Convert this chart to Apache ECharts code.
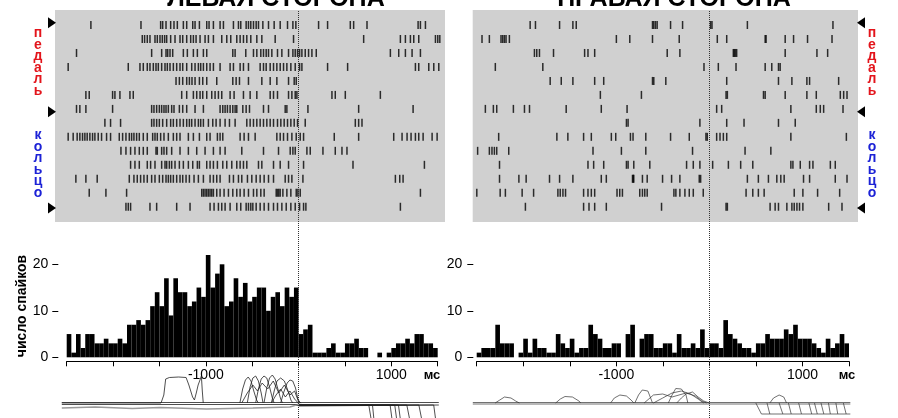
<!DOCTYPE html>
<html><head><meta charset="utf-8">
<script src="https://cdn.jsdelivr.net/npm/echarts@6/dist/echarts.min.js"></script>
<style>html,body{margin:0;padding:0;background:#fff}#c{width:898px;height:418px}</style>
</head><body><div id="c"></div>
<script>
// ---- Raster data: spike times (ms, relative to event at 0) per trial row ----
const leftRows = [
 [-2246,-1706,-1494,-1472,-1436,-1386,-1350,-1314,-1249,-1213,-1148,-1123,-1076,-997,-972,-925,-853,-817,-709,-655,-630,-572,-547,-522,-493,-464,-439,-392,-331,-270,-205,-126,-68,-36,209,306,551,587,731,1282,1307,1361],
 [-1692,-1667,-1638,-1609,-1555,-1530,-1501,-1476,-1451,-1429,-1386,-1339,-1285,-1256,-1213,-1170,-1141,-1112,-1069,-1015,-979,-925,-835,-781,-738,-673,-637,-601,-565,-522,-457,-403,-259,-61,695,1091,1145,1199,1235,1289,1469,1494,1516],
 [-2401,-1591,-1483,-1436,-1418,-1393,-1364,-1249,-1206,-1141,-1098,-1033,-997,-716,-691,-576,-493,-457,-414,-385,-356,-331,-295,-234,-187,-115,-68,-43,-18,4,29,65,101,137,184,983,1073,1145,1217,1307],
 [-2491,-1843,-1717,-1681,-1638,-1609,-1573,-1544,-1519,-1483,-1447,-1422,-1393,-1357,-1321,-1285,-1256,-1213,-1159,-1123,-1087,-1062,-1033,-997,-961,-925,-853,-745,-709,-637,-601,-547,-421,-385,-356,-313,-277,-241,-205,-169,-133,-90,-43,4,29,306,522,1253,1289,1397,1451,1505],
 [-1328,-1292,-1256,-1213,-1184,-1156,-1123,-1076,-1040,-997,-889,-716,-680,-644,-547,-403,-313,-241,-115,-54,-32],
 [-2300,-2264,-2012,-1987,-1933,-1825,-1789,-1267,-1213,-1141,-1105,-1069,-1040,-997,-943,-907,-871,-835,-745,-702,-601,-529,-457,-313,-277,-234,-115,-79,-43,-25,353,389,497,875],
 [-2401,-2365,-2300,-2012,-1591,-1566,-1537,-1508,-1483,-1458,-1436,-1411,-1375,-1350,-1292,-1256,-1213,-1123,-1033,-853,-824,-799,-774,-745,-716,-691,-673,-608,-572,-536,-385,-331,-151,-133,94,641,1228],
 [-2095,-2034,-1926,-1591,-1566,-1537,-1508,-1472,-1429,-1386,-1357,-1321,-1285,-1249,-1213,-1184,-1159,-1123,-1087,-1062,-1033,-979,-932,-896,-853,-799,-752,-691,-565,-529,-493,-457,-421,-385,-349,-313,-277,-234,-198,-162,-126,-90,-54,-18,65,605,641,677],
 [-2491,-2437,-2394,-2365,-2336,-2311,-2286,-2257,-2228,-2203,-2167,-2131,-2077,-2034,-1940,-1904,-1868,-1832,-1807,-1782,-1753,-1724,-1681,-1638,-1580,-1555,-1530,-1494,-1458,-1411,-1357,-1321,-1285,-1195,-1141,-1076,-997,-961,-882,-853,-824,-637,-594,-547,-475,-241,-205,-169,-126,-79,-32,11,47,378,641,1019,1109,1163,1206,1253,1289,1336,1433,1487],
 [-1922,-1868,-1818,-1771,-1724,-1681,-1638,-1544,-1530,-1483,-1458,-1429,-1375,-1285,-1195,-1105,-1015,-925,-853,-799,-619,-385,-223,-97,-68,-43,83,119,256,389,461,515],
 [-1818,-1771,-1724,-1638,-1602,-1555,-1483,-1447,-1429,-1400,-1375,-1339,-1292,-1249,-1195,-1148,-1098,-1076,-997,-961,-925,-882,-824,-781,-727,-673,-637,-601,-565,-439,-403,-277,-205,-115,47,580,1350],
 [-2408,-2300,-2178,-1832,-1782,-1746,-1710,-1674,-1638,-1591,-1555,-1508,-1472,-1436,-1411,-1386,-1357,-1321,-1285,-1256,-1220,-1184,-1134,-1087,-1033,-961,-925,-889,-853,-752,-709,-655,-619,-558,-511,-464,-421,-378,-331,-277,-151,-115,-79,40,1037,1084,1120],
 [-2264,-2084,-1861,-1051,-1033,-1015,-997,-979,-961,-943,-925,-889,-853,-810,-763,-716,-673,-637,-594,-547,-493,-457,-414,-378,-248,-234,-220,-205,-176,-133,-90,-32,-14,11,1307],
 [-1868,-1843,-1818,-1609,-1537,-1321,-1177,-961,-918,-871,-835,-799,-745,-673,-630,-572,-547,-522,-500,-464,-421,-378,-331,-277,-234,-187,-140,-90,-43,4,47,72,1091]
];
const rightRows = [
 [-1924,-1867,-1608,-1465,-1429,-610,-596,-578,-560,-416,-287,14,29,409,1328],
 [-2441,-2362,-2237,-2219,-2201,-2183,-2147,-998,-854,-610,-323,86,187,600,610,815,905,1055,1318],
 [-1878,-1853,-1824,-1673,-1339,-1303,-1231,-452,-316,258,269,280,294,815,1156,1271],
 [-2298,-1788,-57,97,287,600,671,743,761],
 [-1709,-1590,-1465,-1231,-1134,-610,-596,-467,187,743,887,1048,1077,1389],
 [-1170,-729,180,194,582,600,815,1048,1149,1407,1443,1479],
 [-2405,-2319,-2283,-2104,-1985,-1931,-1537,-1160,-883,79,133,876,1149,1192,1228,1436],
 [-890,-872,-101,187,373,743,923],
 [-2262,-1637,-1519,-1350,-1267,-1052,-1005,-847,-819,-682,-416,-215,-36,-22,79,115,151,187,876,1472],
 [-2488,-2362,-2334,-2308,-2283,-2154,-1249,-944,-682,-180,384,661],
 [-2253,-1303,-1242,-1134,-890,-872,-811,-639,-244,-172,-101,36,205,337,467,876,898,977,1077,1113,1300,1353],
 [-2253,-2045,-1967,-1716,-1608,-1465,-1160,-1106,-825,-818,-811,-718,-667,-502,-405,-316,-108,-93,409,527,635,725,768,804,1012,1077,1353,1479],
 [-2497,-2246,-2190,-2010,-1887,-1626,-1601,-1572,-1544,-1350,-1303,-1267,-1231,-991,-962,-933,-747,-718,-693,-667,-380,-359,-316,-262,-215,-172,-65,395,467,527,589,912,1005,1163,1400],
 [-1975,-1350,-1292,-1231,-1106,-513,180,194,653,707,743,833,887,912,941,969,1005,1282,1425]
];

// ---- Histogram counts, 50 ms bins from -2500 to +1500 ms ----
const leftHist = [5,1,5,2,5,5,3,3,4,3,3,4,3,7,7,8,7,8,11,14,11,17,9,17,14,14,11,12,15,13,22,15,18,20,11,12,17,13,16,12,13,15,15,10,13,14,11,15,13,15,5,6,7,1,1,1,2,3,1,1,3,3,4,2,2,0,0,1,0,1,2,3,3,4,3,5,5,3,3,2];
const rightHist = [1,2,2,2,7,3,3,3,0,1,4,1,4,2,2,1,1,5,3,2,4,1,2,2,7,5,4,2,2,3,3,0,5,7,0,4,5,5,2,2,3,3,1,5,2,2,3,2,6,2,3,3,2,8,5,4,3,2,2,1,3,3,5,4,4,4,6,5,7,4,4,4,3,2,1,4,2,3,5,3];
const binStarts = leftHist.map((_, k) => -2500 + 50 * k);

const xTickLabels = [-1000, 1000];
const yTickLabels = [0, 10, 20];
const titles = ['ЛЕВАЯ СТОРОНА', 'ПРАВАЯ СТОРОНА'];
const yName = 'число спайков';
const unitLabel = 'мс';
const groupLabels = ['педаль', 'кольцо'];

// ---- Movement traces (ms, amplitude) ----
const leftTraces = [
 [[-2560,0.5],[1505,0.5]],
 [[-2560,-1.5],[-40,-1.5],[0,-3],[1505,-2]],
 [[-2560,0],[-1490,0],[-1460,8],[-1440,24],[-1400,25.5],[-1300,26],[-1220,25.5],[-1190,18],[-1150,6],[-1130,3],[-1110,10],[-1090,18],[-1070,23],[-1055,27],[-1045,12],[-1035,0]],
 [[-640,0],[-610,14],[-580,23],[-550,26],[-520,22],[-490,12],[-460,3],[-440,0]],
 [[-560,0],[-530,16],[-500,25],[-470,27],[-440,22],[-410,10],[-390,0]],
 [[-470,0],[-440,14],[-410,24],[-380,27],[-350,25],[-320,16],[-290,5],[-270,0]],
 [[-380,0],[-350,15],[-320,25],[-290,28],[-260,24],[-230,14],[-200,4],[-180,0]],
 [[-300,0],[-270,12],[-240,22],[-200,25],[-160,22],[-120,12],[-90,3],[-70,0]],
 [[-200,0],[-170,10],[-130,20],[-100,23],[-70,22],[-40,15],[-15,4],[10,0]],
 [[-620,0],[-560,10],[-500,18],[-450,12],[-400,20],[-340,14],[-280,22],[-220,10],[-160,18],[-100,8],[-50,12],[-10,2],[20,0]],
 [[-300,0],[-250,8],[-200,14],[-150,6],[-100,12],[-50,4],[0,-1]],
 [[0,-2],[750,-2],[775,-16]],
 [[0,-2],[790,-2],[805,-16]],
 [[0,-2],[980,-2],[1000,-16]],
 [[0,-2],[1030,-2],[1050,-16]],
 [[0,-2],[1070,-2],[1090,-16]],
 [[0,-2],[1160,-2],[1190,-16]],
 [[0,-2],[1290,-2],[1320,-16]],
 [[0,-2],[1450,-2],[1470,-16]]
];
const leftTraceGray = [[-2560,-5],[-2200,-4],[-1800,-5.5],[-1500,-4.5],[-1000,-6],[-500,-5],[-100,-4],[0,-1]];
const rightTraces = [
 [[-2540,0.5],[1515,0.5]],
 [[-2540,-1],[1515,-1]],
 [[-2300,0],[-2250,3],[-2200,6],[-2130,5],[-2080,2],[-2040,0]],
 [[-1650,0],[-1600,4],[-1550,6.5],[-1470,6],[-1400,2],[-1380,0]],
 [[-1060,0],[-1020,5],[-960,8],[-890,7],[-840,3],[-810,0]],
 [[-800,0],[-760,8],[-720,13],[-660,12],[-630,5],[-610,0]],
 [[-440,0],[-400,8],[-360,14.5],[-300,14],[-250,8],[-230,0]],
 [[-600,0],[-500,5],[-400,10],[-300,12],[-200,9],[-120,4],[-60,0]],
 [[-700,0],[-600,8],[-500,9],[-400,6],[-250,10],[-150,7],[-80,2],[-30,0]],
 [[-350,0],[-300,5],[-250,9],[-180,11],[-120,6],[-60,2],[0,0]],
 [[650,0],[690,5],[750,8],[800,6],[830,0]],
 [[500,0],[515,0],[560,-11],[1515,-11]],
 [[620,0],[650,-11]],
 [[750,0],[790,-11]],
 [[850,0],[880,-11]],
 [[960,0],[990,-11]],
 [[1070,0],[1100,-11]],
 [[1130,0],[1160,-11]],
 [[1200,0],[1230,-11]],
 [[1280,0],[1300,-11]],
 [[1360,0],[1380,-11]],
 [[1440,0],[1470,-11]]
];

const FONT = "'Liberation Sans', Arial, sans-serif";

function rasterData(rows) {
  const out = [];
  rows.forEach((r, i) => r.forEach(t => out.push([t, i])));
  return out;
}

const chart = echarts.init(document.getElementById('c'), null, {renderer: 'canvas'});

const hidden = {show: false};
function hiddenVal(grid, min, max) {
  return {type: 'value', gridIndex: grid, min, max, show: false, splitLine: hidden,
    axisLine: {show: false, onZero: false}};
}
function histX(grid) {
  return {type: 'value', gridIndex: grid, position: 'bottom', min: -2500, max: 1500, interval: 500, offset: 4,
    axisLine: {show: true, onZero: false, lineStyle: {color: '#000', width: 1}},
    axisTick: {show: true, length: 5, lineStyle: {color: '#000'}},
    axisLabel: {margin: 7, color: '#000', fontFamily: FONT, fontSize: 14,
      formatter: v => xTickLabels.includes(v) ? String(v) : ''},
    splitLine: hidden};
}
function histY(grid, off, margin) {
  return {type: 'value', gridIndex: grid, position: 'left', min: 0, max: 22, offset: off,
    axisLine: {show: false, onZero: false},
    axisTick: {show: true, length: 6, customValues: yTickLabels, lineStyle: {color: '#000'}},
    axisLabel: {margin, color: '#000', fontFamily: FONT, fontSize: 14, customValues: yTickLabels},
    splitLine: hidden};
}

const series = [];
series.push({type: 'scatter', xAxisIndex: 0, yAxisIndex: 0, data: rasterData(leftRows),
  symbol: 'rect', symbolSize: [1.5, 8], itemStyle: {color: '#000'}, silent: true, z: 3});
series.push({type: 'scatter', xAxisIndex: 1, yAxisIndex: 1, data: rasterData(rightRows),
  symbol: 'rect', symbolSize: [1.5, 8], itemStyle: {color: '#000'}, silent: true, z: 3});
series.push({type: 'bar', xAxisIndex: 2, yAxisIndex: 2, data: leftHist, barCategoryGap: '0%',
  itemStyle: {color: '#000'}, silent: true});
series.push({type: 'bar', xAxisIndex: 4, yAxisIndex: 3, data: rightHist, barCategoryGap: '0%',
  itemStyle: {color: '#000'}, silent: true});
series.push({type: 'line', xAxisIndex: 6, yAxisIndex: 4, data: leftTraceGray, showSymbol: false,
  lineStyle: {color: '#9a9a9a', width: 1.5}, silent: true});
leftTraces.forEach(tr => series.push({type: 'line', xAxisIndex: 6, yAxisIndex: 4, data: tr,
  showSymbol: false, lineStyle: {color: '#222', width: 0.8}, silent: true}));
rightTraces.forEach(tr => series.push({type: 'line', xAxisIndex: 7, yAxisIndex: 5, data: tr,
  showSymbol: false, lineStyle: {color: '#333', width: 0.7}, silent: true}));
[8, 9].forEach((xi, k) => series.push({type: 'line', xAxisIndex: xi, yAxisIndex: 6 + k,
  data: [[0, 0]], showSymbol: false, lineStyle: {width: 0}, silent: true, z: 10,
  markLine: {silent: true, symbol: 'none', label: {show: false}, animation: false,
    lineStyle: {type: 'dotted', color: '#333', width: 1}, data: [{xAxis: 0}]}}));

function tri(x0, x1, y) {
  return {type: 'polygon', shape: {points: [[x0, y - 5.5], [x1, y], [x0, y + 5.5]]}, style: {fill: '#000'}, silent: true};
}
function vlabel(txt, x, y, color) {
  return {type: 'text', x, y, silent: true, style: {text: txt.split('').join('\n'), fill: color,
    font: 'bold 14px ' + FONT, lineHeight: 11.5, align: 'center', verticalAlign: 'middle'}};
}

const graphic = [
  {type: 'text', x: 276, y: -1, silent: true, style: {text: titles[0], font: 'bold 25px ' + FONT, fill: '#000', align: 'center', verticalAlign: 'middle'}},
  {type: 'text', x: 674, y: -1, silent: true, style: {text: titles[1], font: 'bold 25px ' + FONT, fill: '#000', align: 'center', verticalAlign: 'middle'}},
  tri(48, 56, 22.7), tri(48, 56, 111.7), tri(48, 56, 208),
  tri(865, 857, 22.7), tri(865, 857, 111.7), tri(865, 857, 208),
  vlabel(groupLabels[0], 38, 62, '#e3141b'), vlabel(groupLabels[1], 38, 164, '#1c22d6'),
  vlabel(groupLabels[0], 872, 62, '#e3141b'), vlabel(groupLabels[1], 872, 164, '#1c22d6'),
  {type: 'text', x: 22, y: 306, rotation: Math.PI / 2, silent: true, style: {text: yName, font: 'bold 14px ' + FONT, fill: '#000', align: 'center', verticalAlign: 'middle'}},
  {type: 'text', x: 432, y: 375, silent: true, style: {text: unitLabel, font: 'bold 13px ' + FONT, fill: '#000', align: 'center', verticalAlign: 'middle'}},
  {type: 'text', x: 847, y: 375, silent: true, style: {text: unitLabel, font: 'bold 13px ' + FONT, fill: '#000', align: 'center', verticalAlign: 'middle'}}
];

chart.setOption({
  animation: false,
  backgroundColor: '#fff',
  grid: [
    {left: 55, top: 10, width: 390, height: 212, show: true, backgroundColor: '#d0d0d0', borderWidth: 0},
    {left: 472.7, top: 10, width: 385.3, height: 212, show: true, backgroundColor: '#d0d0d0', borderWidth: 0},
    {left: 66.7, top: 255, width: 371, height: 102.3},
    {left: 476.7, top: 255, width: 372.3, height: 102.3},
    {left: 61.8, top: 370, width: 378.4, height: 48},
    {left: 472.8, top: 370, width: 378, height: 48},
    {left: 66.7, top: 10, width: 371, height: 408},
    {left: 476.7, top: 10, width: 372.3, height: 408}
  ],
  xAxis: [
    hiddenVal(0, -2633, 1572),
    hiddenVal(1, -2541, 1597),
    {type: 'category', gridIndex: 2, position: 'top', data: binStarts, show: false},
    histX(2),
    {type: 'category', gridIndex: 3, position: 'top', data: binStarts, show: false},
    histX(3),
    hiddenVal(4, -2560, 1520),
    hiddenVal(5, -2540, 1520),
    hiddenVal(6, -2500, 1500),
    hiddenVal(7, -2500, 1500)
  ],
  yAxis: [
    Object.assign(hiddenVal(0, -1.073, 14.09), {inverse: true}),
    Object.assign(hiddenVal(1, -1.073, 14.09), {inverse: true}),
    histY(2, 8.4, 10),
    histY(3, 3.4, 11),
    hiddenVal(4, -15, 33),
    hiddenVal(5, -15, 33),
    hiddenVal(6, 0, 1),
    hiddenVal(7, 0, 1)
  ],
  series,
  graphic
});
</script>
</body></html>
